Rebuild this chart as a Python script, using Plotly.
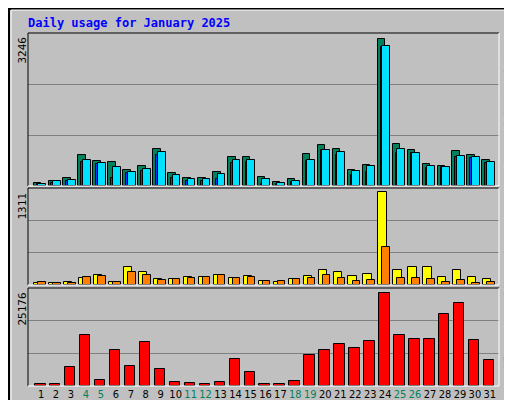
import plotly.graph_objects as go

days = list(range(1, 32))
weekend_days = [4, 5, 11, 12, 18, 19, 25, 26]
hits = [73,117,183,689,557,535,359,447,821,293,183,183,315,645,645,205,95,161,711,909,821,359,469,3246,931,799,491,447,777,689,579]
files = [50,117,139,579,513,425,315,381,755,249,161,161,271,579,579,161,73,117,579,799,755,337,447,3087,821,733,447,425,667,645,535]
pages = [40,60,100,535,476,183,279,337,689,183,117,117,161,513,535,51,51,95,557,799,689,249,315,3065,733,733,403,425,645,623,513]
visits = [33,33,47,104,147,47,247,190,90,90,119,119,147,104,133,62,47,90,133,218,190,133,162,1311,218,261,247,119,218,119,90]
sites = [47,33,33,119,133,47,190,147,76,90,104,119,147,104,119,62,62,90,104,147,104,62,76,532,104,104,90,47,76,33,47]
kbytes = [460,460,5054,13877,1746,9741,5330,11948,4503,1195,919,460,1195,7260,3676,643,643,1470,8363,9741,11396,10293,12223,25176,13877,12775,12775,19389,22425,12499,6984]

GRAY = "#c0c0c0"
fig = go.Figure()
line = dict(color="black", width=1)

def bar(y, color, axis, off, w, name):
    fig.add_trace(go.Bar(x=days, y=y, marker=dict(color=color, line=line), offset=off, width=w,
                         xaxis="x", yaxis=axis, name=name, showlegend=False))

bar(hits, "#00805c", "y", -0.5, 0.5, "Hits")
bar(pages, "#0040ff", "y", -0.3, 0.5, "Pages")
bar(files, "#00e0ff", "y", -0.2, 0.52, "Files")
bar(visits, "#ffff00", "y2", -0.45, 0.55, "Visits")
bar(sites, "#ff8000", "y2", -0.18, 0.5, "Sites")
bar(kbytes, "#ff0000", "y3", -0.4, 0.7, "KBytes")

ticktext = [f"<span style='color:#00805c'>{d}</span>" if d in weekend_days else str(d) for d in days]

def yax(maxv, frac, dom):
    r = maxv / frac
    return dict(domain=dom, range=[0, r], tickvals=[r/3, 2*r/3], showticklabels=False,
                showgrid=True, gridcolor="#808080", gridwidth=1, zeroline=False, fixedrange=True,
                showline=False, ticks="", automargin=False)

fig.update_layout(
    width=512, height=400, margin=dict(l=0, r=0, t=0, b=0, autoexpand=False),
    paper_bgcolor=GRAY, plot_bgcolor=GRAY, barmode="overlay", bargap=0,
    font=dict(family="DejaVu Sans Mono", size=11, color="black"),
    xaxis=dict(domain=[20/512, 491/512], range=[0.13, 31.61], tickvals=days, ticktext=ticktext,
               anchor="y3", showgrid=False, zeroline=False, ticks="", tickangle=0, automargin=False,
               tickfont=dict(size=11, family="DejaVu Sans Condensed")),
    yaxis=yax(max(hits), 0.96, [0.555, 0.9375]),
    yaxis2=yax(max(visits), 0.958, [0.3075, 0.55]),
    yaxis3=yax(max(kbytes), 0.952, [0.055, 0.30]),
)

for (y0, y1) in [(0.555, 0.9375), (0.3075, 0.55), (0.055, 0.30)]:
    x0, x1 = 20/512, 491/512
    fig.add_shape(type="line", xref="paper", yref="paper", x0=x0, x1=x1, y0=y1, y1=y1, line=dict(color="black", width=1))
    fig.add_shape(type="line", xref="paper", yref="paper", x0=x0, x1=x0, y0=y0, y1=y1, line=dict(color="black", width=1))
    fig.add_shape(type="line", xref="paper", yref="paper", x0=x1, x1=x1, y0=y0, y1=y1, line=dict(color="white", width=1))
    fig.add_shape(type="line", xref="paper", yref="paper", x0=x0, x1=x1, y0=y0, y1=y0, line=dict(color="white", width=1))

fig.add_shape(type="rect", xref="paper", yref="paper", x0=0.002, x1=0.998, y0=0.0025, y1=0.9975, line=dict(color="black", width=2), layer="below")
fig.add_shape(type="line", xref="paper", yref="paper", x0=0.006, x1=0.994, y0=0.995, y1=0.995, line=dict(color="white", width=1))
fig.add_shape(type="line", xref="paper", yref="paper", x0=0.006, x1=0.006, y0=0.006, y1=0.995, line=dict(color="white", width=1))
fig.add_shape(type="line", xref="paper", yref="paper", x0=0.006, x1=0.994, y0=0.008, y1=0.008, line=dict(color="#808080", width=3))
fig.add_shape(type="line", xref="paper", yref="paper", x0=0.993, x1=0.993, y0=0.008, y1=0.995, line=dict(color="#808080", width=3))

fig.add_annotation(text="<b>Daily usage for January 2025</b>", xref="paper", yref="paper", x=18/512, y=1-15/400,
                   xanchor="left", yanchor="middle", showarrow=False, font=dict(color="#0000ff", size=12, family="DejaVu Sans Mono"))

for txt, ytop in [(str(max(hits)), 27), (str(max(visits)), 183), (str(max(kbytes)), 283)]:
    fig.add_annotation(text=txt, xref="paper", yref="paper", x=14/512, y=1-ytop/400, textangle=-90,
                       xanchor="center", yanchor="top", showarrow=False, font=dict(size=11))

right = [
    ("<span style='color:#00e0ff'>Pages</span> / <span style='color:#0040ff'>Files</span> / <span style='color:#00805c'>Hits</span>", 27),
    ("<span style='color:#ff8000'>Sites</span> / <span style='color:#ffff00'>Visits</span>", 195),
    ("<span style='color:#ff0000'>KBytes</span>", 318),
]
for txt, ytop in right:
    fig.add_annotation(text=txt, xref="paper", yref="paper", x=500/512, y=1-ytop/400, textangle=-90,
                       xanchor="center", yanchor="top", showarrow=False, font=dict(size=11))

fig.write_html("out.html")
